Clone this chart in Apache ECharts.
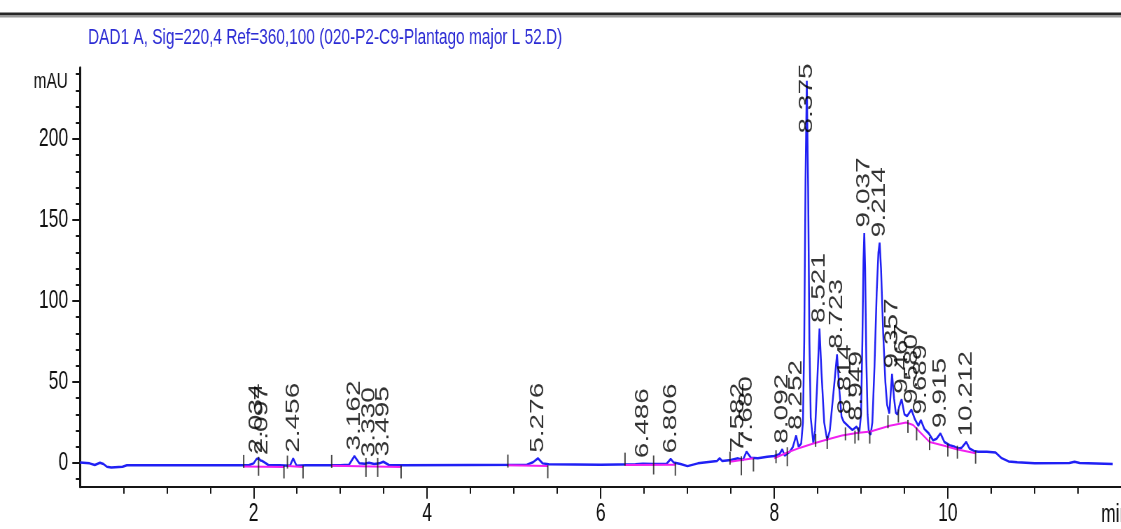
<!DOCTYPE html>
<html>
<head>
<meta charset="utf-8">
<title>DAD1 A chromatogram</title>
<script src="https://cdn.jsdelivr.net/npm/echarts@6/dist/echarts.min.js"></script>
<style>
    html, body { margin: 0; padding: 0; background: #fff; overflow: hidden; }
    /* the printout is squeezed sideways, so draw wide and compress */
    #main { width: 1602px; height: 529px; transform: scaleX(0.7); transform-origin: 0 0; }
</style>
</head>
<body>
<div id="main"></div>
<script type="text/javascript">
// signal trace: [time (min), mAU]
var trace = [
    [0.00, 0.4], [0.11, -0.2], [0.17, -1.2], [0.23, 0.2], [0.27, -0.6], [0.31, -2.3], [0.36, -2.7], [0.49, -2.3], [0.54, -1.4],
    [1.00, -1.4], [1.50, -1.4], [1.88, -1.4], [1.95, -1.2], [2.00, -0.2], [2.034, 2.5], [2.057, 2.9], [2.08, 1.6], [2.097, 1.4],
    [2.13, 0.2], [2.17, -1.2], [2.30, -1.4], [2.42, -1.6], [2.456, 2.9], [2.495, -1.6], [2.60, -1.4],
    [3.00, -1.4], [3.10, -1.0], [3.162, 4.3], [3.22, -0.2], [3.28, -0.4], [3.33, 0.2], [3.39, -0.6], [3.45, -0.2], [3.495, 0.8],
    [3.56, -1.2], [3.70, -1.4], [4.50, -1.2], [5.15, -1.0], [5.22, 0.5], [5.276, 2.9], [5.33, -0.2], [5.40, -0.8],
    [6.00, -1.0], [6.40, -0.8], [6.486, -0.4], [6.60, -0.6], [6.76, -0.4], [6.806, 2.5], [6.84, 0.4], [6.92, -0.6], [7.00, -1.9],
    [7.12, -0.2], [7.34, 1.2], [7.37, 2.9], [7.40, 1.2], [7.50, 1.9], [7.582, 2.9], [7.64, 1.9], [7.68, 7.0], [7.73, 3.3],
    [7.81, 2.9], [7.92, 3.9], [8.00, 4.3], [8.06, 5.5], [8.092, 8.5], [8.12, 4.5], [8.18, 7.0], [8.215, 10], [8.252, 17],
    [8.28, 10], [8.31, 12], [8.33, 25], [8.345, 75], [8.36, 175], [8.375, 236], [8.39, 170], [8.405, 75], [8.42, 28], [8.45, 12],
    [8.47, 20], [8.495, 50], [8.521, 83], [8.545, 55], [8.575, 25], [8.61, 14], [8.64, 20], [8.69, 48], [8.723, 67], [8.75, 45],
    [8.775, 28.6], [8.80, 25.5], [8.814, 26.5], [8.86, 22.4], [8.90, 20.4], [8.949, 22.5], [8.98, 19],
    [9.00, 30], [9.015, 75], [9.028, 125], [9.037, 142], [9.047, 120], [9.06, 65], [9.075, 30], [9.09, 19], [9.11, 17.5],
    [9.13, 25], [9.155, 60], [9.18, 105], [9.20, 130], [9.214, 136], [9.23, 120], [9.255, 80], [9.28, 50], [9.30, 36],
    [9.326, 30.6], [9.34, 42], [9.357, 55], [9.38, 40], [9.40, 31], [9.42, 30], [9.44, 35], [9.467, 39.3], [9.50, 30],
    [9.53, 29], [9.555, 31], [9.58, 33], [9.62, 27], [9.66, 23], [9.689, 26.5], [9.73, 21], [9.78, 18.3], [9.83, 14],
    [9.87, 15], [9.915, 18.3], [9.96, 13], [10.02, 11], [10.08, 10], [10.12, 9], [10.16, 9.5], [10.212, 13], [10.25, 9],
    [10.30, 7.5], [10.35, 7], [10.45, 7], [10.55, 6.5], [10.62, 3], [10.70, 1], [10.80, 0.5], [11.00, -0.2], [11.40, 0],
    [11.46, 0.8], [11.52, 0], [11.90, -0.6]
];

// integration baselines (magenta), one list per segment
var baselines = [
    [[1.886, -2.2], [2.35, -2.4]],
    [[2.39, -1.8], [2.57, -2.4]],
    [[2.90, -1.6], [3.70, -2.4]],
    [[4.93, -1.4], [5.39, -1.9]],
    [[6.28, -1.2], [6.86, -1.0]],
    [[7.49, 0.8], [7.76, 2.9]],
    [[8.00, 3.0], [8.15, 6.5], [8.30, 9.5], [8.45, 12], [8.61, 14.5], [8.78, 17], [8.95, 18.5], [9.11, 19.5],
     [9.33, 23], [9.52, 25], [9.60, 23.5], [9.69, 18.5], [9.79, 13], [9.97, 10.5], [10.10, 8.5], [10.32, 6]]
];

// peak start / stop marks
var eventMarks = [
    [1.886, 1], [2.35, -5.5], [2.39, 0.6], [2.57, -5.5], [2.90, 1], [3.70, -5.5], [4.93, 1.2], [5.39, -5.4],
    [6.28, 2.4], [6.86, -3.8], [7.49, 3], [7.76, -1.2], [8.02, 3.9], [8.476, 14], [8.61, 12.7], [8.82, 18],
    [8.93, 16], [8.97, 18], [9.10, 16], [9.31, 25.5], [9.43, 29], [9.54, 22.6], [9.64, 18], [9.79, 12],
    [10.0, 8], [10.11, 6.7], [10.32, 3.6]
];
// drop lines between merged peaks (longer marks)
var dropMarks = [[2.057, -2], [3.295, -2.7], [3.43, -2.7], [6.61, -1.2], [7.62, -1.7], [8.15, 3.9]];

// retention times and apex heights
var peakRT = [2.034, 2.097, 2.456, 3.162, 3.330, 3.495, 5.276, 6.486, 6.806, 7.582, 7.680, 8.092, 8.252,
              8.375, 8.521, 8.723, 8.814, 8.949, 9.037, 9.214, 9.357, 9.467, 9.580, 9.689, 9.915, 10.212];
var peakMAU = [2.5, 1.4, 2.9, 4.3, 0.2, 0.8, 2.9, -0.4, 2.5, 2.9, 7.0, 8.5, 17,
               236, 83, 67, 26.5, 22.5, 142, 136, 55, 39.3, 33, 26.5, 18.3, 13];

var xMajor = [2, 4, 6, 8, 10];
var yMajor = [0, 50, 100, 150, 200];
var yMinor = [-10, 10, 20, 30, 40, 60, 70, 80, 90, 110, 120, 130, 140, 160, 170, 180, 190, 210, 220, 230, 240];

var titleText = 'DAD1 A, Sig=220,4 Ref=360,100 (020-P2-C9-Plantago major L 52.D)';
var FONT = '"Liberation Sans", Arial, sans-serif';

var myChart = echarts.init(document.getElementById('main'));

// labels that would run off the top get pulled down
var labelData = [];
for (var i = 0; i < peakRT.length; i++) {
    labelData.push([peakRT[i], Math.min(peakMAU[i], 200)]);
}

var series = [{
    type: 'line',
    data: trace,
    showSymbol: false,
    lineStyle: { color: '#2020f4', width: 2.5 },
    z: 3,
    silent: true
}];
for (var s = 0; s < baselines.length; s++) {
    series.push({
        type: 'line',
        data: baselines[s],
        showSymbol: false,
        lineStyle: { color: '#f020f0', width: 2 },
        z: 4,
        silent: true
    });
}
series.push({
    type: 'scatter',
    data: eventMarks,
    symbol: 'rect',
    symbolSize: [2, 13],
    itemStyle: { color: '#1a1a1a' },
    z: 5,
    silent: true
});
series.push({
    type: 'scatter',
    data: dropMarks,
    symbol: 'rect',
    symbolSize: [2, 19],
    itemStyle: { color: '#1a1a1a' },
    z: 5,
    silent: true
});
series.push({
    type: 'scatter',
    data: labelData,
    symbolSize: 1,
    itemStyle: { color: 'rgba(0,0,0,0)' },
    z: 6,
    silent: true,
    label: {
        show: true,
        position: 'top',
        distance: 5,
        rotate: 90,
        align: 'left',
        verticalAlign: 'middle',
        fontFamily: FONT,
        fontSize: 28,
        color: '#000',
        formatter: function (p) { return p.value[0].toFixed(3); }
    },
    labelLayout: { hideOverlap: false }
});

myChart.setOption({
    animation: false,
    backgroundColor: '#fff',
    grid: { left: 114.3, right: -12.3, top: 67.7, bottom: 42.3 },
    xAxis: {
        type: 'value',
        min: 0,
        max: 12,
        interval: 2,
        axisLine: { onZero: false, lineStyle: { color: '#151515', width: 2 } },
        axisTick: { customValues: xMajor, length: 12, lineStyle: { color: '#151515', width: 2 } },
        axisLabel: { customValues: xMajor, margin: 15, fontFamily: FONT, fontSize: 25, color: '#111' },
        minorTick: { show: true, splitNumber: 4, length: 7, lineStyle: { color: '#151515', width: 2 } },
        splitLine: { show: false },
        minorSplitLine: { show: false }
    },
    yAxis: [{
        type: 'value',
        position: 'left',
        min: -14.6,
        max: 244,
        axisLine: { show: true, onZero: false, lineStyle: { color: '#151515', width: 3 } },
        axisTick: { show: true, customValues: yMajor, length: 11, lineStyle: { color: '#151515', width: 2 } },
        axisLabel: { customValues: yMajor, margin: 17, fontFamily: FONT, fontSize: 25, color: '#111' },
        splitLine: { show: false }
    }, {
        type: 'value',
        position: 'left',
        min: -14.6,
        max: 244,
        axisLine: { show: false, onZero: false },
        axisTick: { show: true, customValues: yMinor, length: 6, lineStyle: { color: '#151515', width: 2 } },
        axisLabel: { show: false },
        splitLine: { show: false }
    }],
    graphic: [
        { type: 'rect', shape: { x: 0, y: 12.5, width: 1602, height: 3 }, style: { fill: '#262626' } },
        { type: 'rect', shape: { x: 0, y: 15.5, width: 1602, height: 2 }, style: { fill: '#9a9a9a' } },
        { type: 'text', x: 125.7, y: 38, style: { text: titleText, fill: '#2b2bd4', font: '22px ' + FONT, align: 'left', verticalAlign: 'middle' } },
        { type: 'text', x: 97, y: 82, style: { text: 'mAU', fill: '#111', font: '22px ' + FONT, align: 'right', verticalAlign: 'middle' } },
        { type: 'text', x: 1573, y: 515, style: { text: 'min', fill: '#111', font: '25px ' + FONT, align: 'left', verticalAlign: 'middle' } }
    ],
    series: series
});
</script>
</body>
</html>
